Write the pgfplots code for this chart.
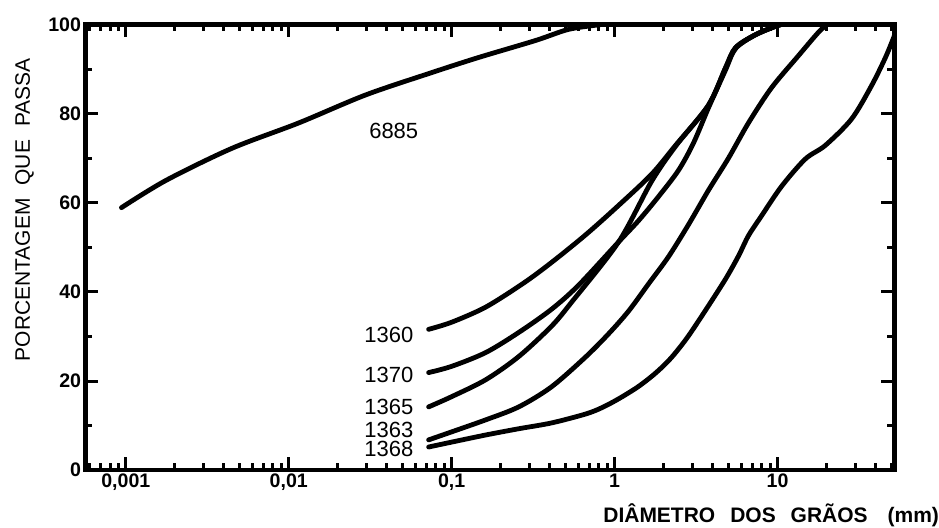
\documentclass[border=0pt]{standalone}
\usepackage{pgfplots}
\pgfplotsset{compat=1.18}
\usepackage{fontspec}
\setmainfont{Liberation Sans}

\tikzset{curve/.style={black, solid, line width=2.4pt, smooth, tension=0.5, line cap=round}}

\begin{document}
\begin{tikzpicture}
\begin{axis}[
  name=ax,
  xmode=log,
  scale only axis,
  width=404.75pt, height=223pt,
  xmin=5.65e-4, xmax=52.2,
  ymin=0, ymax=100,
  xtick={0.001,0.01,0.1,1,10},
  xticklabels={0{,}001,0{,}01,0{,}1,1,10},
  minor xtick={0.0006,0.0007,0.0008,0.0009,
    0.002,0.003,0.004,0.005,0.006,0.007,0.008,0.009,
    0.02,0.03,0.04,0.05,0.06,0.07,0.08,0.09,
    0.2,0.3,0.4,0.5,0.6,0.7,0.8,0.9,
    2,3,4,5,6,7,8,9,20,30,40,50},
  ytick={0,20,40,60,80,100},
  yticklabels={0,20,40,60,80,100},
  minor ytick={10,30,50,70,90},
  axis line style={line width=2.2pt},
  every tick/.style={black, line width=1.5pt},
  major tick length=6.5pt,
  minor tick length=3.5pt,
  tick label style={font=\fontsize{9.8}{11}\selectfont\bfseries},
  xticklabel style={inner sep=1.5pt},
  yticklabel style={inner sep=2pt},
  xlabel={DIÂMETRO\hspace{7.5pt}DOS\hspace{7.5pt}GRÃOS\hspace{10pt}(mm)},
  ylabel={PORCENTAGEM\hspace{6.5pt}QUE\hspace{6.5pt}PASSA},
  every axis x label/.style={at={(rel axis cs:1,0)}, anchor=base east,
    xshift=22.5pt, yshift=-26.25pt, inner sep=0pt,
    font=\fontsize{10.5}{12}\selectfont\bfseries},
  every axis y label/.style={at={(rel axis cs:0,0.584)}, xshift=-27.75pt,
    rotate=90, anchor=base, inner sep=0pt,
    font=\fontsize{10.5}{12}\selectfont},
]
% 6885
\addplot[curve] coordinates {(0.00094,58.9) (0.00176,65.0) (0.00447,72.2) (0.0115,77.9)
  (0.0297,84.2) (0.0754,89.2) (0.1465,92.6) (0.327,96.4) (0.522,98.9) (0.83,100) (0.95,100.3)};
% 1360
\addplot[curve] coordinates {(0.0722,31.6) (0.1,33.2) (0.162,36.6) (0.277,42.0) (0.41,46.6)
  (0.664,52.8) (1.058,59.4) (1.687,66.4) (2.37,72.9) (3.77,81.9) (4.80,90.3)
  (5.53,94.8) (7.33,97.7) (10.1,99.8) (11.7,100.3)};
% 1365
\addplot[curve] coordinates {(0.0722,14.2) (0.1,16.5) (0.162,20.3) (0.258,25.5) (0.41,32.3)
  (0.545,37.7) (1.058,51.2) (1.687,64.8) (2.37,72.7) (3.77,81.9) (4.80,90.3)
  (5.53,94.8) (7.33,97.7) (10.1,99.8) (11.7,100.3)};
% 1370
\addplot[curve] coordinates {(0.0722,21.9) (0.1,23.3) (0.162,26.4) (0.258,30.9) (0.41,36.1)
  (0.601,41.5) (1.058,51.2) (1.404,56.0) (1.862,61.4) (2.47,67.3) (3.05,73.4)
  (3.77,81.3) (4.80,89.8) (5.53,94.6) (7.33,97.7) (10.1,99.8) (11.7,100.3)};
% 1363
\addplot[curve] coordinates {(0.0722,6.8) (0.1,8.6) (0.162,11.3) (0.258,14.2) (0.41,18.7)
  (0.664,25.4) (0.919,30.6) (1.219,35.7) (1.616,41.8) (2.143,47.9) (2.843,55.1)
  (3.77,62.8) (5.0,70.0) (6.63,77.9) (9.19,85.8) (13.45,93.0) (17.8,98.2) (20.6,100.3)};
% 1368
\addplot[curve] coordinates {(0.0722,5.2) (0.1,6.3) (0.162,7.9) (0.258,9.3) (0.41,10.6)
  (0.664,12.6) (0.833,14.0) (1.058,16.0) (1.404,18.8) (1.8,21.9) (2.237,25.3)
  (2.8,29.8) (3.62,35.9) (4.80,42.9) (5.77,48.1) (6.63,52.6) (7.96,57.0) (10.6,63.7)
  (14.8,69.8) (19.7,72.9) (28.5,78.8) (37.7,86.2) (46.0,92.6) (52.2,97.5)};

\begin{scope}[every node/.style={inner sep=0pt, font=\fontsize{11}{13}\selectfont}]
\node[anchor=center] at (axis cs:0.0441,76.1) {6885};
\node[anchor=east] at (axis cs:0.0585,30.4) {1360};
\node[anchor=east] at (axis cs:0.0585,21.4) {1370};
\node[anchor=east] at (axis cs:0.0585,14.2) {1365};
\node[anchor=east] at (axis cs:0.0585,9.1) {1363};
\node[anchor=east] at (axis cs:0.0585,4.8) {1368};
\end{scope}
\end{axis}
\path ([xshift=-42.75pt,yshift=-28.25pt]ax.south west) rectangle ([xshift=22pt,yshift=12.25pt]ax.north east);
\end{tikzpicture}
\end{document}
